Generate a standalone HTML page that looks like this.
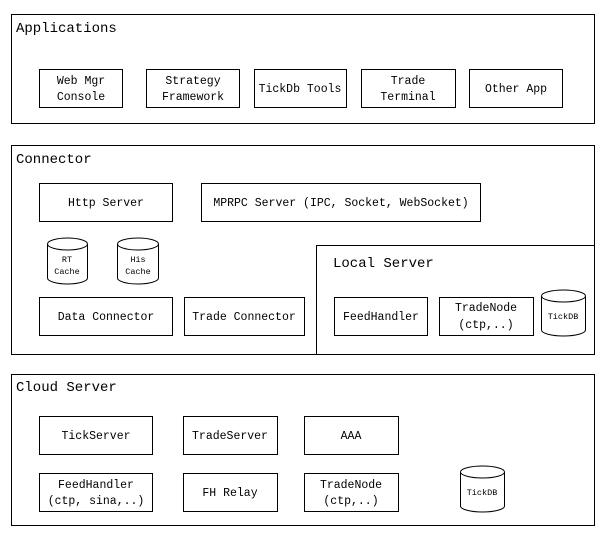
<!DOCTYPE html>
<html><head><meta charset="utf-8"><style>
html,body{margin:0;padding:0;background:#fff;width:605px;height:535px;overflow:hidden}
text{font-family:"Liberation Mono","Noto Sans CJK SC",monospace;fill:#000}
</style></head><body>
<svg width="605" height="535" xmlns="http://www.w3.org/2000/svg">
<g fill="#fff" stroke="#000" stroke-width="1">
<rect x="11.5" y="14.5" width="583" height="109"/>
<rect x="11.5" y="145.5" width="583" height="209"/>
<rect x="316.5" y="245.5" width="278" height="109"/>
<rect x="11.5" y="374.5" width="583" height="151"/>
<rect x="39.5" y="69.5" width="83" height="38"/>
<rect x="146.5" y="69.5" width="93" height="38"/>
<rect x="254.5" y="69.5" width="92" height="38"/>
<rect x="361.5" y="69.5" width="94" height="38"/>
<rect x="469.5" y="69.5" width="93" height="38"/>
<rect x="39.5" y="183.5" width="133" height="38"/>
<rect x="201.5" y="183.5" width="279" height="38"/>
<rect x="39.5" y="297.5" width="133" height="38"/>
<rect x="184.5" y="297.5" width="120" height="38"/>
<rect x="334.5" y="297.5" width="93" height="38"/>
<rect x="439.5" y="297.5" width="94" height="38"/>
<rect x="39.5" y="416.5" width="113" height="38"/>
<rect x="183.5" y="416.5" width="94" height="38"/>
<rect x="304.5" y="416.5" width="94" height="38"/>
<rect x="39.5" y="473.5" width="113" height="38"/>
<rect x="183.5" y="473.5" width="94" height="38"/>
<rect x="304.5" y="473.5" width="94" height="38"/>
<path d="M47.5 244 v34 a20 6 0 0 0 40 0 v-34 a20 6 0 0 0 -40 0 a20 6 0 0 0 40 0"/>
<path d="M117.5 244 v34 a20.5 6 0 0 0 41 0 v-34 a20.5 6 0 0 0 -41 0 a20.5 6 0 0 0 41 0"/>
<path d="M541.5 296 v34 a22 6 0 0 0 44 0 v-34 a22 6 0 0 0 -44 0 a22 6 0 0 0 44 0"/>
<path d="M460.5 472 v34 a22 6 0 0 0 44 0 v-34 a22 6 0 0 0 -44 0 a22 6 0 0 0 44 0"/>
</g>
<g font-size="14">
<text x="16" y="32">Applications</text>
<text x="16" y="163">Connector</text>
<text x="333" y="267">Local Server</text>
<text x="16" y="391">Cloud Server</text>
</g>
<g font-size="11.5" text-anchor="middle">
<text x="81" y="84">Web Mgr</text><text x="81" y="100">Console</text>
<text x="193" y="84">Strategy</text><text x="193" y="100">Framework</text>
<text x="300" y="92">TickDb Tools</text>
<text x="408" y="84">Trade</text><text x="408" y="100">Terminal</text>
<text x="516" y="92">Other App</text>
<text x="106" y="206">Http Server</text>
<text x="341" y="206">MPRPC Server (IPC, Socket, WebSocket)</text>
<text x="106" y="320">Data Connector</text>
<text x="244" y="320">Trade Connector</text>
<text x="381" y="320">FeedHandler</text>
<text x="486" y="311">TradeNode</text><text x="486" y="328">(ctp,..)</text>
<text x="96" y="439">TickServer</text>
<text x="230" y="439">TradeServer</text>
<text x="351" y="439">AAA</text>
<text x="96" y="488">FeedHandler</text><text x="96" y="504">(ctp, sina,..)</text>
<text x="230" y="496">FH Relay</text>
<text x="351" y="488">TradeNode</text><text x="351" y="504">(ctp,..)</text>
</g>
<g font-size="8.5" text-anchor="middle">
<text x="67" y="262">RT</text><text x="67" y="274">Cache</text>
<text x="138" y="262">His</text><text x="138" y="274">Cache</text>
<text x="563" y="319">TickDB</text>
<text x="482" y="495">TickDB</text>
</g>
</svg>
</body></html>
